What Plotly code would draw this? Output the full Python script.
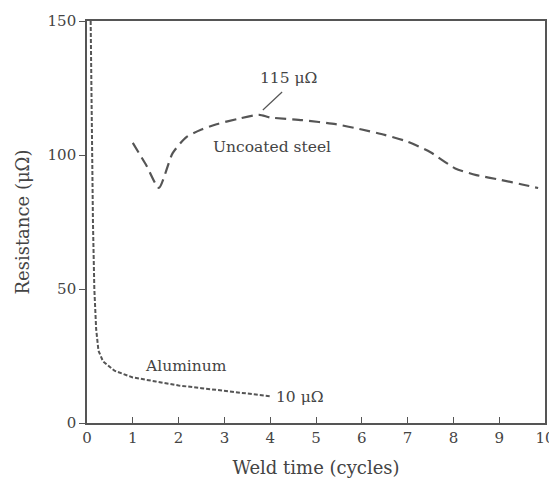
import plotly.graph_objects as go

# Data
al_x = [0.08, 0.10, 0.13, 0.16, 0.20, 0.25, 0.35, 0.6, 1.0, 1.5, 2.0, 2.5, 3.0, 3.5, 4.0]
al_y = [150, 110, 75, 50, 35, 27, 23, 19.5, 17, 15.5, 14, 13, 12, 11, 10]

st_x = [1.0, 1.3, 1.57, 1.87, 2.17, 2.5, 2.83, 3.3, 3.76, 4.0, 4.7, 5.43, 6.0, 6.5, 7.0, 7.5, 8.04, 8.5, 9.04, 9.5, 9.85]
st_y = [104.5, 96, 87.7, 100.7, 106.7, 109.5, 111.5, 113.5, 115, 114, 113, 111.5, 109.5, 107.5, 105, 101, 95, 92.5, 90.7, 89, 87.7]

x_ticks = [0, 1, 2, 3, 4, 5, 6, 7, 8, 9, 10]
y_ticks = [0, 50, 100, 150]

FONT = "DejaVu Serif"
INK = "#444444"
LINE = "#555555"

fig = go.Figure()
fig.add_trace(go.Scatter(x=al_x, y=al_y, mode="lines",
                         line=dict(color=LINE, width=2, dash="4px,2px"),
                         showlegend=False))
fig.add_trace(go.Scatter(x=st_x, y=st_y, mode="lines",
                         line=dict(color=LINE, width=2.2, dash="11px,6px", shape="spline", smoothing=0.6),
                         showlegend=False))

fig.add_shape(type="line", x0=3.84, y0=116.8, x1=4.26, y1=123.5,
              line=dict(color=LINE, width=1.2))

ann = dict(showarrow=False, font=dict(family=FONT, size=15.5, color=INK))
fig.add_annotation(x=4.39, y=128.7, text="115 μΩ", **ann)
fig.add_annotation(x=4.04, y=103, text="Uncoated steel", **ann)
fig.add_annotation(x=2.16, y=21.3, text="Aluminum", **ann)
fig.add_annotation(x=4.65, y=9.7, text="10 μΩ", **ann)

fig.update_layout(
    width=549, height=471,
    margin=dict(l=79, r=12, t=13, b=56),
    paper_bgcolor="white", plot_bgcolor="white",
    font=dict(family=FONT, size=15, color=INK),
    xaxis=dict(range=[0, 10], tickvals=x_ticks, ticktext=[str(v) for v in x_ticks],
               showgrid=False, zeroline=False, showline=True, mirror=True,
               linecolor=LINE, linewidth=1.6, ticks="inside", ticklen=6,
               tickcolor=LINE, tickwidth=1.2, automargin=False,
               title=dict(text="Weld time (cycles)", standoff=16,
                          font=dict(family=FONT, size=18, color=INK))),
    yaxis=dict(range=[0, 150], tickvals=y_ticks, ticktext=[str(v) for v in y_ticks],
               showgrid=False, zeroline=False, showline=True, mirror=True,
               linecolor=LINE, linewidth=1.6, ticks="outside", ticklen=6,
               tickcolor=LINE, tickwidth=1.2, automargin=False,
               title=dict(text="Resistance (μΩ)", standoff=13,
                          font=dict(family=FONT, size=18, color=INK))),
)

fig.write_html("out.html")
